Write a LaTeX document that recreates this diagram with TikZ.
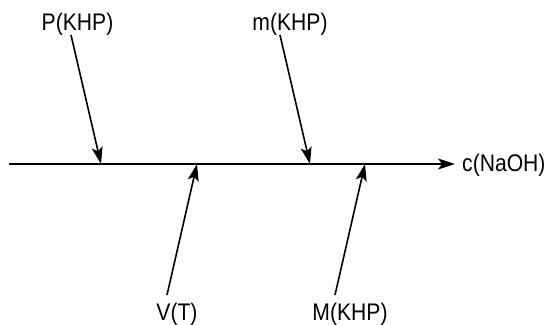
\documentclass[tikz,border=0pt]{standalone}
\usepackage{fontspec}
\setmainfont{Liberation Sans}
\usetikzlibrary{arrows.meta}
\newcommand{\cond}[1]{\scalebox{0.88}[1]{#1}}
\begin{document}
\begin{tikzpicture}[x=1pt,y=-1pt,
  lbl/.style={inner sep=0pt,font=\fontsize{24}{28}\selectfont},
  cause/.style={line width=1.6pt,-{Stealth[length=17pt,width=11pt,inset=4pt]}}]
\useasboundingbox (0,0) rectangle (548,324);
\node[lbl] (P) at (77.5,24) {\cond{P(KHP)}};
\node[lbl] (m) at (290,24) {\cond{m(KHP)}};
\node[lbl] (V) at (177,314) {\cond{V(T)}};
\node[lbl] (M) at (350,314) {\cond{M(KHP)}};
\node[lbl,anchor=west] (c) at (462,165) {\cond{c(NaOH)}};
\coordinate (s) at (9,164);
\coordinate (e) at (455,164);
\coordinate (tP) at (101,164);
\coordinate (tm) at (310,164);
\coordinate (tV) at (197,164);
\coordinate (tM) at (365,164);
\coordinate (fP) at (71,35);
\coordinate (fm) at (280,35);
\coordinate (fV) at (167,295);
\coordinate (fM) at (335,295);
\draw[cause] (s) -- (e);
\draw[cause] (fP) -- (tP);
\draw[cause] (fm) -- (tm);
\draw[cause] (fV) -- (tV);
\draw[cause] (fM) -- (tM);
\end{tikzpicture}
\end{document}
